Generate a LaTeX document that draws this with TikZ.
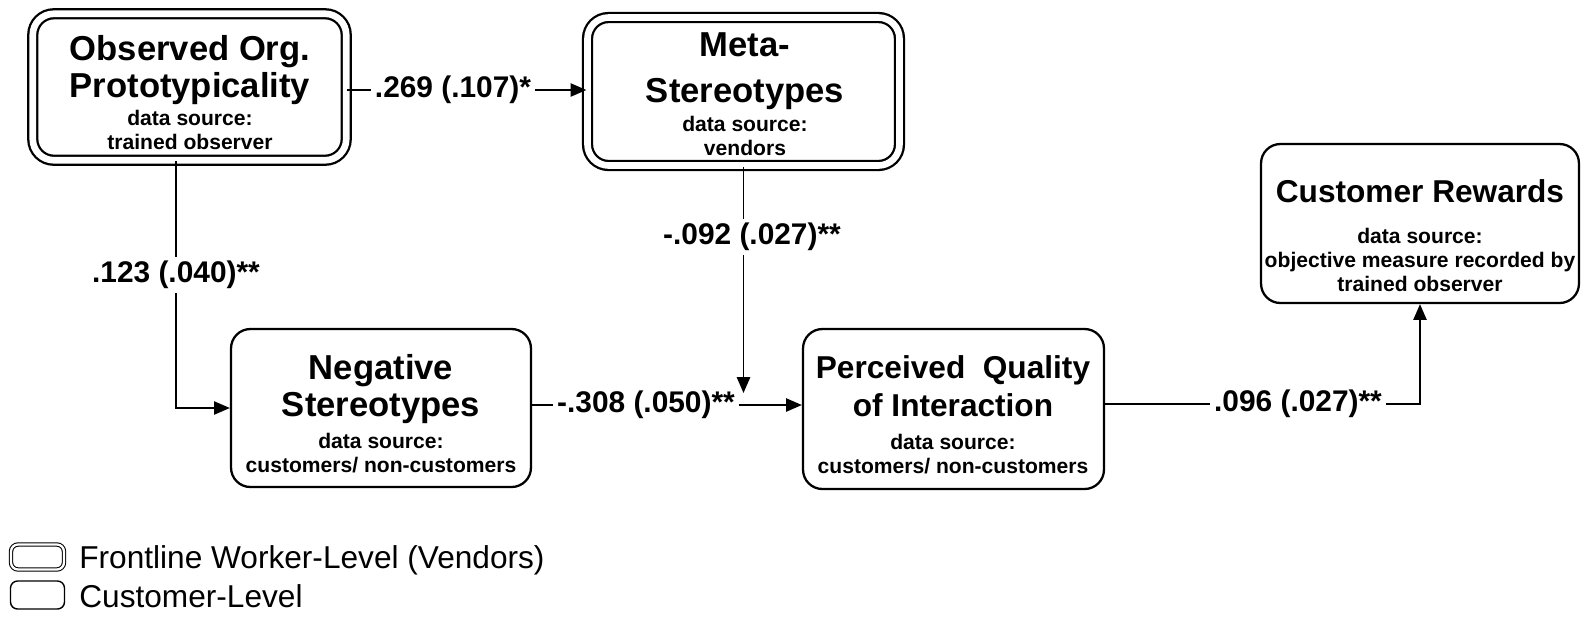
\documentclass[tikz,border=0pt]{standalone}
\usepackage{fontspec}
\setmainfont{Liberation Sans}
\usetikzlibrary{arrows.meta}
\newcommand{\ttlfont}{\fontsize{19.7}{21.5}\selectfont\bfseries}
\newcommand{\srcfont}{\fontsize{12}{13.5}\selectfont\bfseries}
\newcommand{\coeffont}{\fontsize{17}{20}\selectfont\bfseries}
\begin{document}
\begin{tikzpicture}[x=0.02cm,y=-0.02cm,
    custbox/.style={draw,line width=1.3pt,rounded corners=11pt,inner sep=0pt},
    vendbox/.style={custbox,double,double distance=3.8pt,rounded corners=12pt},
    ttl/.style={align=center,inner sep=0pt,font=\ttlfont},
    src/.style={align=center,inner sep=0pt,font=\srcfont},
    coef/.style={inner sep=2pt,font=\coeffont},
    path/.style={line width=1.1pt},
    arr/.style={path,-{Triangle[length=9pt,width=7.5pt]}}]
    \useasboundingbox (0,0) rectangle (1583,630);
    % boxes
    \node[vendbox,minimum width=6.27cm,minimum height=2.93cm](obs) at (189.5,87){};
    \node[vendbox,minimum width=6.24cm,minimum height=2.96cm](meta) at (743.5,91.5){};
    \node[custbox,minimum width=6.0cm,minimum height=3.16cm](neg) at (381,408){};
    \node[custbox,minimum width=6.02cm,minimum height=3.2cm](pqi) at (953.5,409){};
    \node[custbox,minimum width=6.36cm,minimum height=3.18cm](cr) at (1420,223.5){};
    % texts
    \node[ttl](obsT) at (190,70){Observed Org.\\Prototypicality};
    \node[src](obsS) at (190,130){data source:\\trained observer};
    \node[ttl](metaT) at (745,71){Meta-\\[5pt]Stereotypes};
    \node[src](metaS) at (745,136){data source:\\vendors};
    \node[ttl](negT) at (381,389){Negative\\Stereotypes};
    \node[src](negS) at (381,453){data source:\\customers/ non-customers};
    \node[ttl,font=\fontsize{18}{21.5}\selectfont\bfseries](pqiT) at (953,386){Perceived~~Quality\\of Interaction};
    \node[src](pqiS) at (953,454){data source:\\customers/ non-customers};
    \node[ttl,font=\fontsize{18}{21.5}\selectfont\bfseries](crT) at (1420,191){Customer Rewards};
    \node[src](crS) at (1420,260){data source:\\objective measure recorded by\\trained observer};
    % coefficients
    \node[coef](l269) at (453,90){.269 (.107)*};
    \node[coef](l123) at (176,275){.123 (.040)**};
    \node[coef](l092) at (752,237){-.092 (.027)**};
    \node[coef](l308) at (646,405){-.308 (.050)**};
    \node[coef](l096) at (1298,404){.096 (.027)**};
    \coordinate (hit) at (743.5,393);
    % paths
    \draw[path](obs.east|-l269)--(l269.west);
    \draw[arr](l269.east)--(meta.west|-l269);
    \draw[path,line width=0.8pt](obs.south-|l123)--(l123.north);
    \draw[arr,line width=0.9pt](l123.south)|-(neg.west);
    \draw[path](meta.south)--(meta.south|-l092.north);
    \draw[arr](meta.south|-l092.south)--(hit);
    \draw[path](neg.east|-l308)--(l308.west);
    \draw[arr](l308.east)--(pqi.west|-l308);
    \draw[path](pqi.east|-l096)--(l096.west);
    \draw[arr](l096.east)-|(cr.south);
    % legend
    \node[draw,line width=0.6pt,double,double distance=1.3pt,rounded corners=4pt,minimum width=1.06cm,minimum height=0.5cm,inner sep=0pt](lgV) at (37.5,557){};
    \node[draw,line width=0.8pt,rounded corners=4pt,minimum width=1.08cm,minimum height=0.56cm,inner sep=0pt](lgC) at (37.5,595){};
    \node[anchor=west,inner sep=0pt,font=\fontsize{18}{20}\selectfont](lgVT) at (79,560){Frontline Worker-Level (Vendors)};
    \node[anchor=west,inner sep=0pt,font=\fontsize{18}{20}\selectfont](lgCT) at (79,596){Customer-Level};
\end{tikzpicture}
\end{document}
